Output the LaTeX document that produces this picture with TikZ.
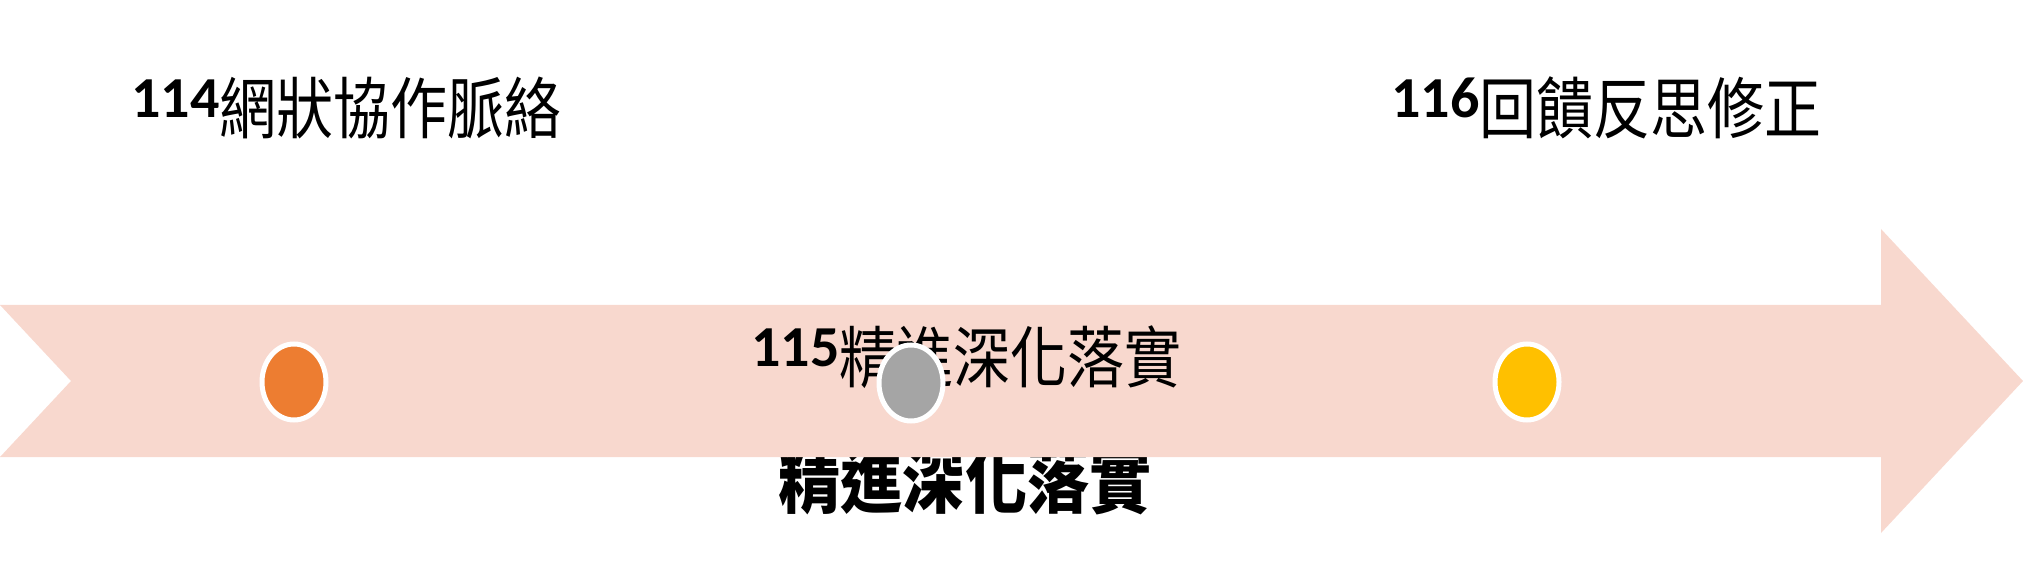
\documentclass[tikz,border=0pt]{standalone}
\usepackage{fontspec}
\usepackage{tikz}
\usetikzlibrary{positioning,shapes}
\newfontfamily\numfont{Carlito}
\newfontfamily\cjkfont[FakeStretch=0.85]{Noto Sans CJK TC}
\definecolor{arrowpink}{HTML}{F8D8CE}
\definecolor{dotorange}{HTML}{ED7D31}
\definecolor{dotgray}{HTML}{A5A5A5}
\definecolor{dotgold}{HTML}{FFC000}
\newcommand{\yearlabel}[2]{\raisebox{8pt}{\numfont\bfseries\fontsize{29}{30}\selectfont #1}{\cjkfont\fontsize{33.5}{36}\selectfont #2}}
\tikzset{
  yeartext/.style={anchor=base west,inner sep=0pt},
  dot/.style={ellipse,draw=white,line width=2.5pt,minimum width=32pt,minimum height=38pt,inner sep=0pt}
}

\begin{document}
\begin{tikzpicture}[x=0.5pt,y=-0.5pt]
\useasboundingbox (0,0) rectangle (2023,587);
\node [anchor=base,inner sep=0pt] (goal) at (965,507) {\cjkfont\bfseries\fontsize{36.5}{40}\selectfont 精進深化落實};
\fill [arrowpink] (0,305) -- (1881,305) -- (1881,229) -- (2023,381) -- (1881,533) -- (1881,457) -- (0,457) -- (71,381) -- cycle;
\node [yeartext] (y114) at (131,134) {\yearlabel{114}{網狀協作脈絡}};
\node [yeartext] (y115) at (751,383) {\yearlabel{115}{精進深化落實}};
\node [yeartext] (y116) at (1391,134) {\yearlabel{116}{回饋反思修正}};
\node [dot,fill=dotorange] (d114) at (294,382) {};
\node [dot,fill=dotgray] (d115) at (911,383) {};
\node [dot,fill=dotgold] (d116) at (1527,382) {};
\end{tikzpicture}
\end{document}
